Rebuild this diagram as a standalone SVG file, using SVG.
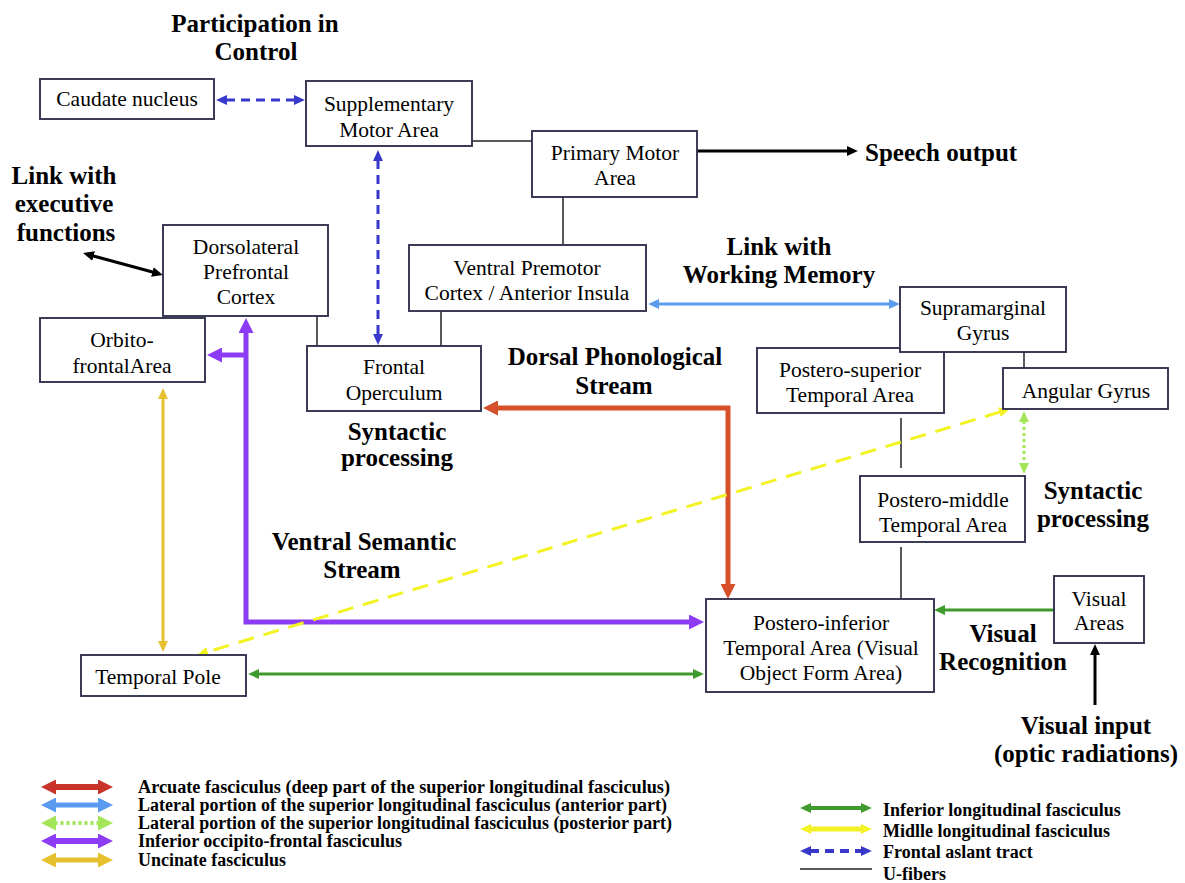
<svg xmlns="http://www.w3.org/2000/svg" width="1185" height="883" viewBox="0 0 1185 883">
<style>
.box{fill:#fff;stroke:#33334f;stroke-width:1.9}
.nt{font-family:"Liberation Serif","Times New Roman",serif;font-size:21.5px;fill:#000;text-anchor:middle}
.lb{font-family:"Liberation Serif","Times New Roman",serif;font-size:25px;font-weight:bold;fill:#000;text-anchor:middle}
.st{text-anchor:start}
.lg{font-family:"Liberation Serif","Times New Roman",serif;font-size:18px;font-weight:bold;fill:#000}
.u{stroke:#222;stroke-width:1.5;fill:none}
.c{fill:none}
</style>
<defs>
<marker id="mBlk" viewBox="0 0 10 10" refX="1" refY="5" markerWidth="11" markerHeight="10" markerUnits="userSpaceOnUse" orient="auto-start-reverse" preserveAspectRatio="none"><path d="M0,0L10,5L0,10z" fill="#000"/></marker>
<marker id="mFat" viewBox="0 0 10 10" refX="1" refY="5" markerWidth="11" markerHeight="10" markerUnits="userSpaceOnUse" orient="auto-start-reverse" preserveAspectRatio="none"><path d="M0,0L10,5L0,10z" fill="#3838cc"/></marker>
<marker id="mSlfA" viewBox="0 0 10 10" refX="1" refY="5" markerWidth="11" markerHeight="10" markerUnits="userSpaceOnUse" orient="auto-start-reverse" preserveAspectRatio="none"><path d="M0,0L10,5L0,10z" fill="#5b9bef"/></marker>
<marker id="mSlfP" viewBox="0 0 10 10" refX="1" refY="5" markerWidth="11" markerHeight="10" markerUnits="userSpaceOnUse" orient="auto-start-reverse" preserveAspectRatio="none"><path d="M0,0L10,5L0,10z" fill="#a4e65a"/></marker>
<marker id="mIlf" viewBox="0 0 10 10" refX="1" refY="5" markerWidth="11" markerHeight="10" markerUnits="userSpaceOnUse" orient="auto-start-reverse" preserveAspectRatio="none"><path d="M0,0L10,5L0,10z" fill="#3e9a2a"/></marker>
<marker id="mUf" viewBox="0 0 10 10" refX="1" refY="5" markerWidth="11" markerHeight="10" markerUnits="userSpaceOnUse" orient="auto-start-reverse" preserveAspectRatio="none"><path d="M0,0L10,5L0,10z" fill="#e6c02e"/></marker>
<marker id="mMdlf" viewBox="0 0 10 10" refX="1" refY="5" markerWidth="11" markerHeight="10" markerUnits="userSpaceOnUse" orient="auto-start-reverse" preserveAspectRatio="none"><path d="M0,0L10,5L0,10z" fill="#f2f224"/></marker>
<marker id="mAf" viewBox="0 0 10 10" refX="1" refY="5" markerWidth="15" markerHeight="15" markerUnits="userSpaceOnUse" orient="auto-start-reverse" preserveAspectRatio="none"><path d="M0,0L10,5L0,10z" fill="#d5502a"/></marker>
<marker id="mIfof" viewBox="0 0 10 10" refX="1" refY="5" markerWidth="15" markerHeight="15" markerUnits="userSpaceOnUse" orient="auto-start-reverse" preserveAspectRatio="none"><path d="M0,0L10,5L0,10z" fill="#8c3cf5"/></marker>
<marker id="mLRed" viewBox="0 0 10 10" refX="1" refY="5" markerWidth="15" markerHeight="15" markerUnits="userSpaceOnUse" orient="auto-start-reverse" preserveAspectRatio="none"><path d="M0,0L10,5L0,10z" fill="#c8342a"/></marker>
<marker id="mLBlue" viewBox="0 0 10 10" refX="1" refY="5" markerWidth="15" markerHeight="15" markerUnits="userSpaceOnUse" orient="auto-start-reverse" preserveAspectRatio="none"><path d="M0,0L10,5L0,10z" fill="#5b9bef"/></marker>
<marker id="mLGreen" viewBox="0 0 10 10" refX="1" refY="5" markerWidth="15" markerHeight="15" markerUnits="userSpaceOnUse" orient="auto-start-reverse" preserveAspectRatio="none"><path d="M0,0L10,5L0,10z" fill="#a4e65a"/></marker>
<marker id="mLGold" viewBox="0 0 10 10" refX="1" refY="5" markerWidth="15" markerHeight="15" markerUnits="userSpaceOnUse" orient="auto-start-reverse" preserveAspectRatio="none"><path d="M0,0L10,5L0,10z" fill="#e6c02e"/></marker>
</defs>
<rect width="1185" height="883" fill="#fff"/>

<g id="connectors">
  <!-- frontal aslant tract -->
  <line x1="226" y1="100" x2="295" y2="100" stroke="#3838cc" stroke-width="3" stroke-dasharray="9 6" marker-start="url(#mFat)" marker-end="url(#mFat)"/>
  <line x1="378" y1="160" x2="378" y2="335" stroke="#3838cc" stroke-width="3" stroke-dasharray="9 6" marker-start="url(#mFat)" marker-end="url(#mFat)"/>
  <!-- U-fibers -->
  <line class="u" x1="472" y1="141" x2="532" y2="141"/>
  <line class="u" x1="563" y1="197" x2="563" y2="245"/>
  <line class="u" x1="317" y1="316" x2="317" y2="346"/>
  <line class="u" x1="441" y1="311" x2="441" y2="346"/>
  <line class="u" x1="1024" y1="352" x2="1024" y2="368"/>
  <line class="u" x1="901" y1="418" x2="901" y2="468"/>
  <line class="u" x1="901" y1="547" x2="901" y2="599"/>
  <!-- black arrows -->
  <line x1="697" y1="151" x2="848" y2="151" stroke="#000" stroke-width="3" marker-end="url(#mBlk)"/>
  <line x1="92.6" y1="255.7" x2="153.4" y2="272.3" stroke="#000" stroke-width="3" marker-start="url(#mBlk)" marker-end="url(#mBlk)"/>
  <line x1="1095" y1="705" x2="1095" y2="654" stroke="#000" stroke-width="3" marker-end="url(#mBlk)"/>
  <!-- SLF anterior -->
  <line x1="658" y1="304" x2="890" y2="304" stroke="#5b9bef" stroke-width="3" marker-start="url(#mSlfA)" marker-end="url(#mSlfA)"/>
  <!-- SLF posterior -->
  <line x1="1024" y1="421" x2="1024" y2="464" stroke="#a4e65a" stroke-width="3" stroke-dasharray="3 3" marker-start="url(#mSlfP)" marker-end="url(#mSlfP)"/>
  <!-- ILF -->
  <line x1="1054" y1="610" x2="944" y2="610" stroke="#3e9a2a" stroke-width="3" marker-end="url(#mIlf)"/>
  <line x1="258" y1="674" x2="694" y2="674" stroke="#3e9a2a" stroke-width="3" marker-start="url(#mIlf)" marker-end="url(#mIlf)"/>
  <!-- Uncinate -->
  <line x1="163" y1="398" x2="163" y2="642" stroke="#e6c02e" stroke-width="3" marker-start="url(#mUf)" marker-end="url(#mUf)"/>
  <!-- Arcuate -->
  <path class="c" d="M496.5,408 H728 V585.5" stroke="#d5502a" stroke-width="5" marker-start="url(#mAf)" marker-end="url(#mAf)"/>
  <!-- IFOF -->
  <path class="c" d="M246,331.5 V622 H690.5" stroke="#8c3cf5" stroke-width="5" marker-start="url(#mIfof)" marker-end="url(#mIfof)"/>
  <path class="c" d="M246,355 H220.5" stroke="#8c3cf5" stroke-width="5" marker-end="url(#mIfof)"/>
  <!-- MdLF -->
  <line x1="1000.4" y1="411.9" x2="206.6" y2="652.1" stroke="#f2f224" stroke-width="3" stroke-dasharray="16 10" marker-start="url(#mMdlf)" marker-end="url(#mMdlf)"/>
</g>

<g id="node-caudate"><rect class="box" x="40" y="79" width="174" height="40"/><text class="nt" x="127" y="106">Caudate nucleus</text></g>
<g id="node-sma"><rect class="box" x="306" y="81" width="166" height="65"/><text class="nt" x="389" y="111">Supplementary</text><text class="nt" x="389" y="137">Motor Area</text></g>
<g id="node-pma"><rect class="box" x="532" y="131" width="165" height="66"/><text class="nt" x="615" y="160">Primary Motor</text><text class="nt" x="615" y="185">Area</text></g>
<g id="node-dlpfc"><rect class="box" x="163" y="225" width="165" height="91"/><text class="nt" x="246" y="254">Dorsolateral</text><text class="nt" x="246" y="279">Prefrontal</text><text class="nt" x="246" y="304">Cortex</text></g>
<g id="node-ofa"><rect class="box" x="40" y="318" width="165" height="64"/><text class="nt" x="122" y="347">Orbito-</text><text class="nt" x="122" y="373">frontalArea</text></g>
<g id="node-vpm"><rect class="box" x="409" y="245" width="237" height="66"/><text class="nt" x="527" y="275">Ventral Premotor</text><text class="nt" x="527" y="300">Cortex / Anterior Insula</text></g>
<g id="node-fo"><rect class="box" x="307" y="346" width="174" height="65"/><text class="nt" x="394" y="374">Frontal</text><text class="nt" x="394" y="400">Operculum</text></g>
<g id="node-pst"><rect class="box" x="757" y="348" width="187" height="65"/><text class="nt" x="850" y="377">Postero-superior</text><text class="nt" x="850" y="402">Temporal Area</text></g>
<g id="node-smg"><rect class="box" x="900" y="287" width="166" height="65"/><text class="nt" x="983" y="315">Supramarginal</text><text class="nt" x="983" y="340">Gyrus</text></g>
<g id="node-ag"><rect class="box" x="1003" y="368" width="165" height="41"/><text class="nt" x="1086" y="398">Angular Gyrus</text></g>
<g id="node-pmt"><rect class="box" x="860" y="476" width="165" height="66"/><text class="nt" x="943" y="507">Postero-middle</text><text class="nt" x="943" y="532">Temporal Area</text></g>
<g id="node-pit"><rect class="box" x="706" y="599" width="228" height="93"/><text class="nt" x="821" y="630">Postero-inferior</text><text class="nt" x="821" y="655">Temporal Area (Visual</text><text class="nt" x="821" y="680">Object Form Area)</text></g>
<g id="node-va"><rect class="box" x="1054" y="576" width="90" height="67"/><text class="nt" x="1099" y="606">Visual</text><text class="nt" x="1099" y="630">Areas</text></g>
<g id="node-tp"><rect class="box" x="81" y="655" width="165" height="41"/><text class="nt" x="158" y="684">Temporal Pole</text></g>

<g id="labels">
  <text class="lb" x="255" y="32">Participation in</text>
  <text class="lb" x="256" y="60">Control</text>
  <text class="lb" x="64" y="184">Link with</text>
  <text class="lb" x="64" y="212">executive</text>
  <text class="lb" x="66" y="241">functions</text>
  <text class="lb st" x="865" y="161">Speech output</text>
  <text class="lb" x="779" y="255">Link with</text>
  <text class="lb" x="779" y="283">Working Memory</text>
  <text class="lb" x="615" y="365">Dorsal Phonological</text>
  <text class="lb" x="614" y="394">Stream</text>
  <text class="lb" x="397" y="440">Syntactic</text>
  <text class="lb" x="397" y="466">processing</text>
  <text class="lb" x="1093" y="499">Syntactic</text>
  <text class="lb" x="1093" y="527">processing</text>
  <text class="lb" x="364" y="550">Ventral Semantic</text>
  <text class="lb" x="362" y="578">Stream</text>
  <text class="lb" x="1003" y="642">Visual</text>
  <text class="lb" x="1003" y="670">Recognition</text>
  <text class="lb" x="1086" y="734">Visual input</text>
  <text class="lb" x="1086" y="762">(optic radiations)</text>
</g>

<g id="legend">
  <line x1="54.5" y1="787" x2="99.5" y2="787" stroke="#c8342a" stroke-width="6" marker-start="url(#mLRed)" marker-end="url(#mLRed)"/>
  <line x1="54.5" y1="805" x2="99.5" y2="805" stroke="#5b9bef" stroke-width="5" marker-start="url(#mLBlue)" marker-end="url(#mLBlue)"/>
  <line x1="54.5" y1="823" x2="99.5" y2="823" stroke="#a4e65a" stroke-width="4" stroke-dasharray="3 3" marker-start="url(#mLGreen)" marker-end="url(#mLGreen)"/>
  <line x1="54.5" y1="841" x2="99.5" y2="841" stroke="#8c3cf5" stroke-width="6" marker-start="url(#mIfof)" marker-end="url(#mIfof)"/>
  <line x1="54.5" y1="860" x2="99.5" y2="860" stroke="#e6c02e" stroke-width="5" marker-start="url(#mLGold)" marker-end="url(#mLGold)"/>
  <text class="lg" x="138" y="793" textLength="532" lengthAdjust="spacingAndGlyphs">Arcuate fasciculus (deep part of the superior longitudinal fasciculus)</text>
  <text class="lg" x="138" y="811" textLength="529" lengthAdjust="spacingAndGlyphs">Lateral portion of the superior longitudinal fasciculus (anterior part)</text>
  <text class="lg" x="138" y="829" textLength="534" lengthAdjust="spacingAndGlyphs">Lateral portion of the superior longitudinal fasciculus (posterior part)</text>
  <text class="lg" x="138" y="847" textLength="264" lengthAdjust="spacingAndGlyphs">Inferior occipito-frontal fasciculus</text>
  <text class="lg" x="138" y="866" textLength="148" lengthAdjust="spacingAndGlyphs">Uncinate fasciculus</text>

  <line x1="810" y1="808" x2="862" y2="808" stroke="#3e9a2a" stroke-width="4" marker-start="url(#mIlf)" marker-end="url(#mIlf)"/>
  <line x1="810" y1="829" x2="862" y2="829" stroke="#f2f224" stroke-width="5" marker-start="url(#mMdlf)" marker-end="url(#mMdlf)"/>
  <line x1="810" y1="851" x2="862" y2="851" stroke="#3838cc" stroke-width="4" stroke-dasharray="9 6" marker-start="url(#mFat)" marker-end="url(#mFat)"/>
  <line x1="800" y1="869" x2="872" y2="869" stroke="#222" stroke-width="1.5"/>
  <text class="lg" x="883" y="816">Inferior longitudinal fasciculus</text>
  <text class="lg" x="883" y="837">Midlle longitudinal fasciculus</text>
  <text class="lg" x="883" y="858">Frontal aslant tract</text>
  <text class="lg" x="883" y="880">U-fibers</text>
</g>
</svg>
